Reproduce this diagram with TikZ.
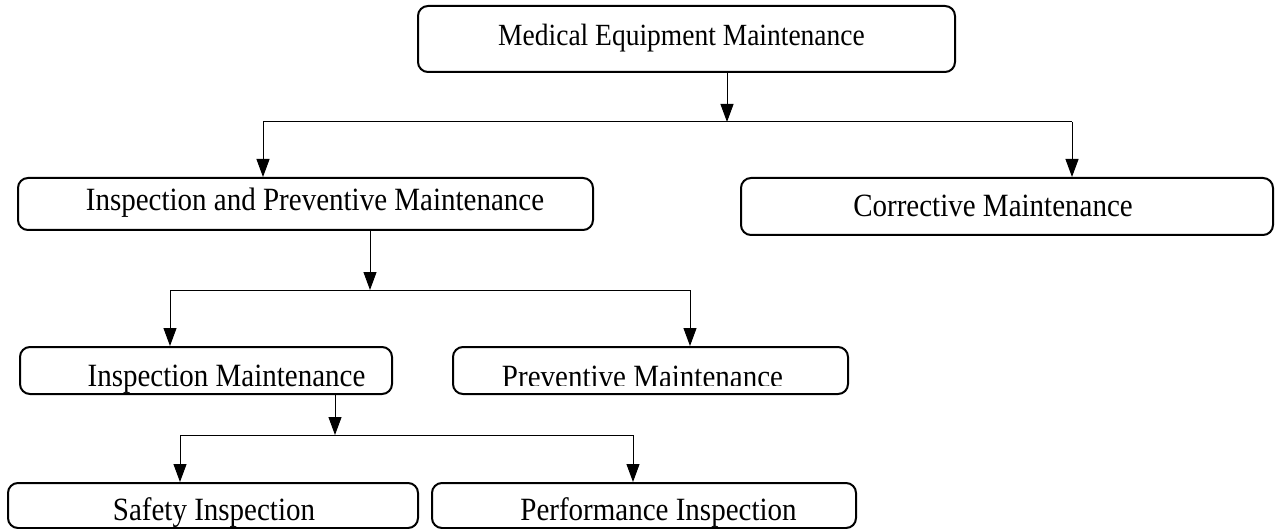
\documentclass[tikz,border=0pt]{standalone}
\usepackage{fontspec}
\setmainfont{Liberation Serif}
\usetikzlibrary{arrows.meta}
\tikzset{
  box/.style={draw, line width=2pt, rounded corners=10pt, inner sep=0pt},
  txt/.style={anchor=base, inner sep=0pt, font=\fontsize{29}{34}\selectfont},
  head/.style={txt, font=\fontsize{27.5}{32}\selectfont},
  link/.style={line width=1pt},
  arr/.style={link, -{Triangle[width=13pt,length=18pt]}}
}
\newcommand{\tallword}[1]{\scalebox{1}[1.12]{#1}}
\begin{document}
\begin{tikzpicture}[x=1pt,y=-1pt]
\useasboundingbox (0,0) rectangle (1276,529);
% boxes
\node[box, minimum width=537pt, minimum height=66pt] (top) at (686.5,39) {};
\node[box, minimum width=575pt, minimum height=52pt] (ipm) at (305.5,204) {};
\node[box, minimum width=532pt, minimum height=57pt] (cm) at (1007,206.5) {};
\node[box, minimum width=372pt, minimum height=47pt] (im) at (206,370.5) {};
\node[box, minimum width=395pt, minimum height=47pt] (pm) at (650.5,370.5) {};
\node[box, minimum width=410pt, minimum height=45pt] (si) at (213,505.5) {};
\node[box, minimum width=424pt, minimum height=45pt] (pi) at (644,505.5) {};
% labels
\node[head] (top-t) at (681.5,46) {\tallword{Medical Equipment Maintenance}};
\node[txt] (ipm-t) at (315,211) {\tallword{Inspection and Preventive Maintenance}};
\node[txt] (cm-t) at (993,217) {\tallword{Corrective Maintenance}};
\node[txt] (im-t) at (226.5,386) {\tallword{Inspection Maintenance}};
\begin{scope}
  \clip (pm.north west) rectangle (pm.east |- 0,385);
  \node[txt] (pm-t) at (642.5,387) {\tallword{Preventive Maintenance}};
\end{scope}
\node[txt] (si-t) at (214,520) {\tallword{Safety Inspection}};
\node[txt] (pi-t) at (658.5,520) {\tallword{Performance Inspection}};
% junctions
\coordinate (j1) at (727,122);
\coordinate (l1) at (263,122);
\coordinate (r1) at (1072,122);
\coordinate (j2) at (370,290);
\coordinate (l2) at (170,290);
\coordinate (r2) at (690,290);
\coordinate (j3) at (335,435);
\coordinate (l3) at (180,435);
\coordinate (r3) at (633,435);
% connectors
\draw[arr] (top.south -| j1) -- (j1);
\draw[link] (l1) -- (r1);
\draw[arr] (l1) -- (ipm.north -| l1);
\draw[arr] (r1) -- (cm.north -| r1);
\draw[arr] (ipm.south -| j2) -- (j2);
\draw[link] (l2) -- (r2);
\draw[arr] (l2) -- (im.north -| l2);
\draw[arr] (r2) -- (pm.north -| r2);
\draw[arr] (im.south -| j3) -- (j3);
\draw[link] (l3) -- (r3);
\draw[arr] (l3) -- (si.north -| l3);
\draw[arr] (r3) -- (pi.north -| r3);
\end{tikzpicture}
\end{document}
